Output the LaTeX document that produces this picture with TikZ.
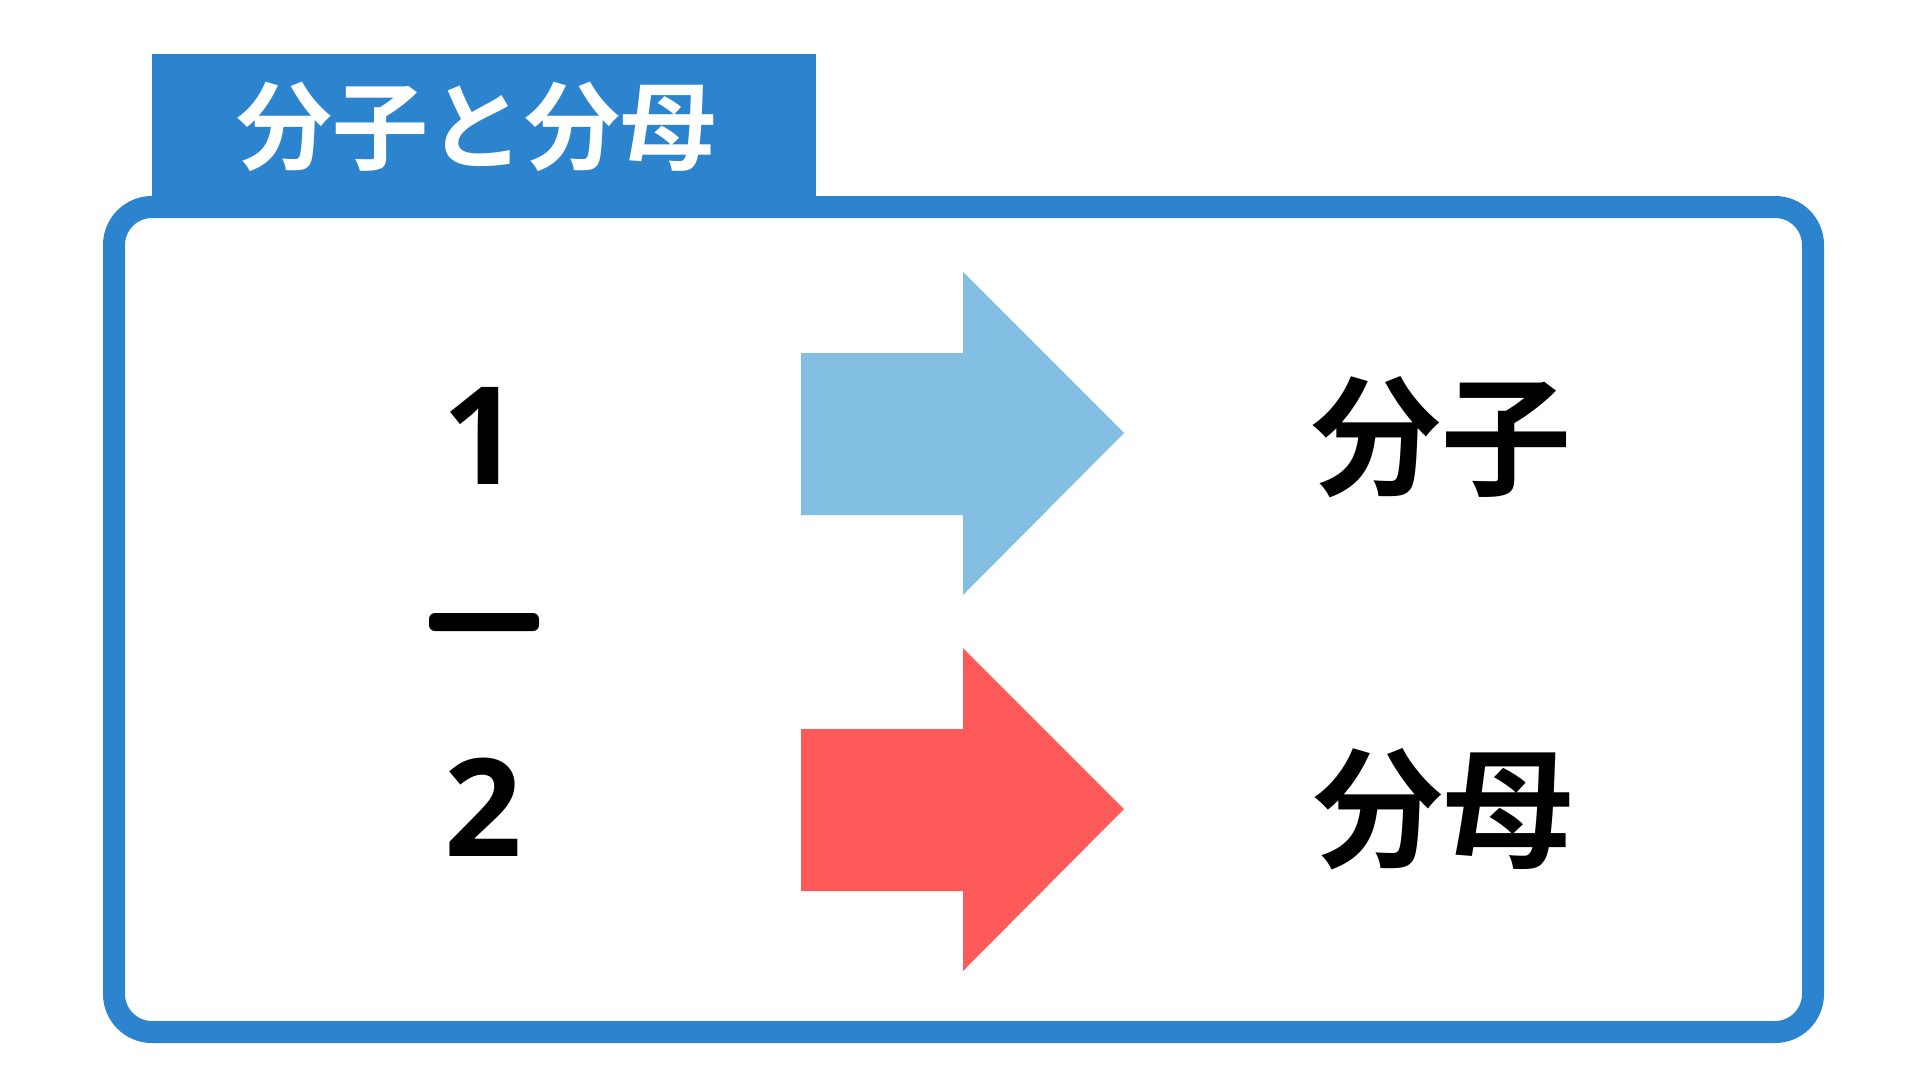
\documentclass[tikz,border=0pt]{standalone}
\usepackage{fontspec}
\newfontfamily\jpfont{Noto Sans CJK JP}[BoldFont={* Bold}]
\newfontfamily\numfont{Open Sans}
\definecolor{frameblue}{HTML}{2B84CD}
\definecolor{arrowblue}{HTML}{83BFE3}
\definecolor{arrowred}{HTML}{FF5A5A}
\tikzset{
  bigtext/.style={font=\jpfont\bfseries\fontsize{130}{156}\selectfont, text=black, inner sep=0pt},
  numtext/.style={font=\numfont\bfseries\fontsize{136}{160}\selectfont, text=black, inner sep=0pt, anchor=base},
  titletext/.style={font=\jpfont\bfseries\fontsize{96}{116}\selectfont, text=white, inner sep=0pt},
}
\begin{document}
\begin{tikzpicture}[x=1pt,y=-1pt]
\useasboundingbox[fill=white] (0,0) rectangle (1920,1080);
% tab
\fill[frameblue] (152,54) rectangle (816,210);
% frame
\draw[frameblue, line width=22pt, rounded corners=38pt] (114,207) rectangle (1813,1032);
\node[titletext] (title) at (476,127) {分子と分母};
% fraction
\node[numtext] (one) at (481,484) {1};
\node[numtext] (two) at (483,856) {2};
\fill[black, rounded corners=6pt] (429,613) rectangle (539,631);
% arrows
\fill[arrowblue] (801,353) -- (963,353) -- (963,272) -- (1124,433) -- (963,595) -- (963,515) -- (801,515) -- cycle;
\fill[arrowred] (801,729) -- (963,729) -- (963,648) -- (1124,809) -- (963,971) -- (963,891) -- (801,891) -- cycle;
% labels
\node[bigtext] (bunshi) at (1441,437) {分子};
\node[bigtext] (bunbo) at (1443,809) {分母};
\end{tikzpicture}
\end{document}
